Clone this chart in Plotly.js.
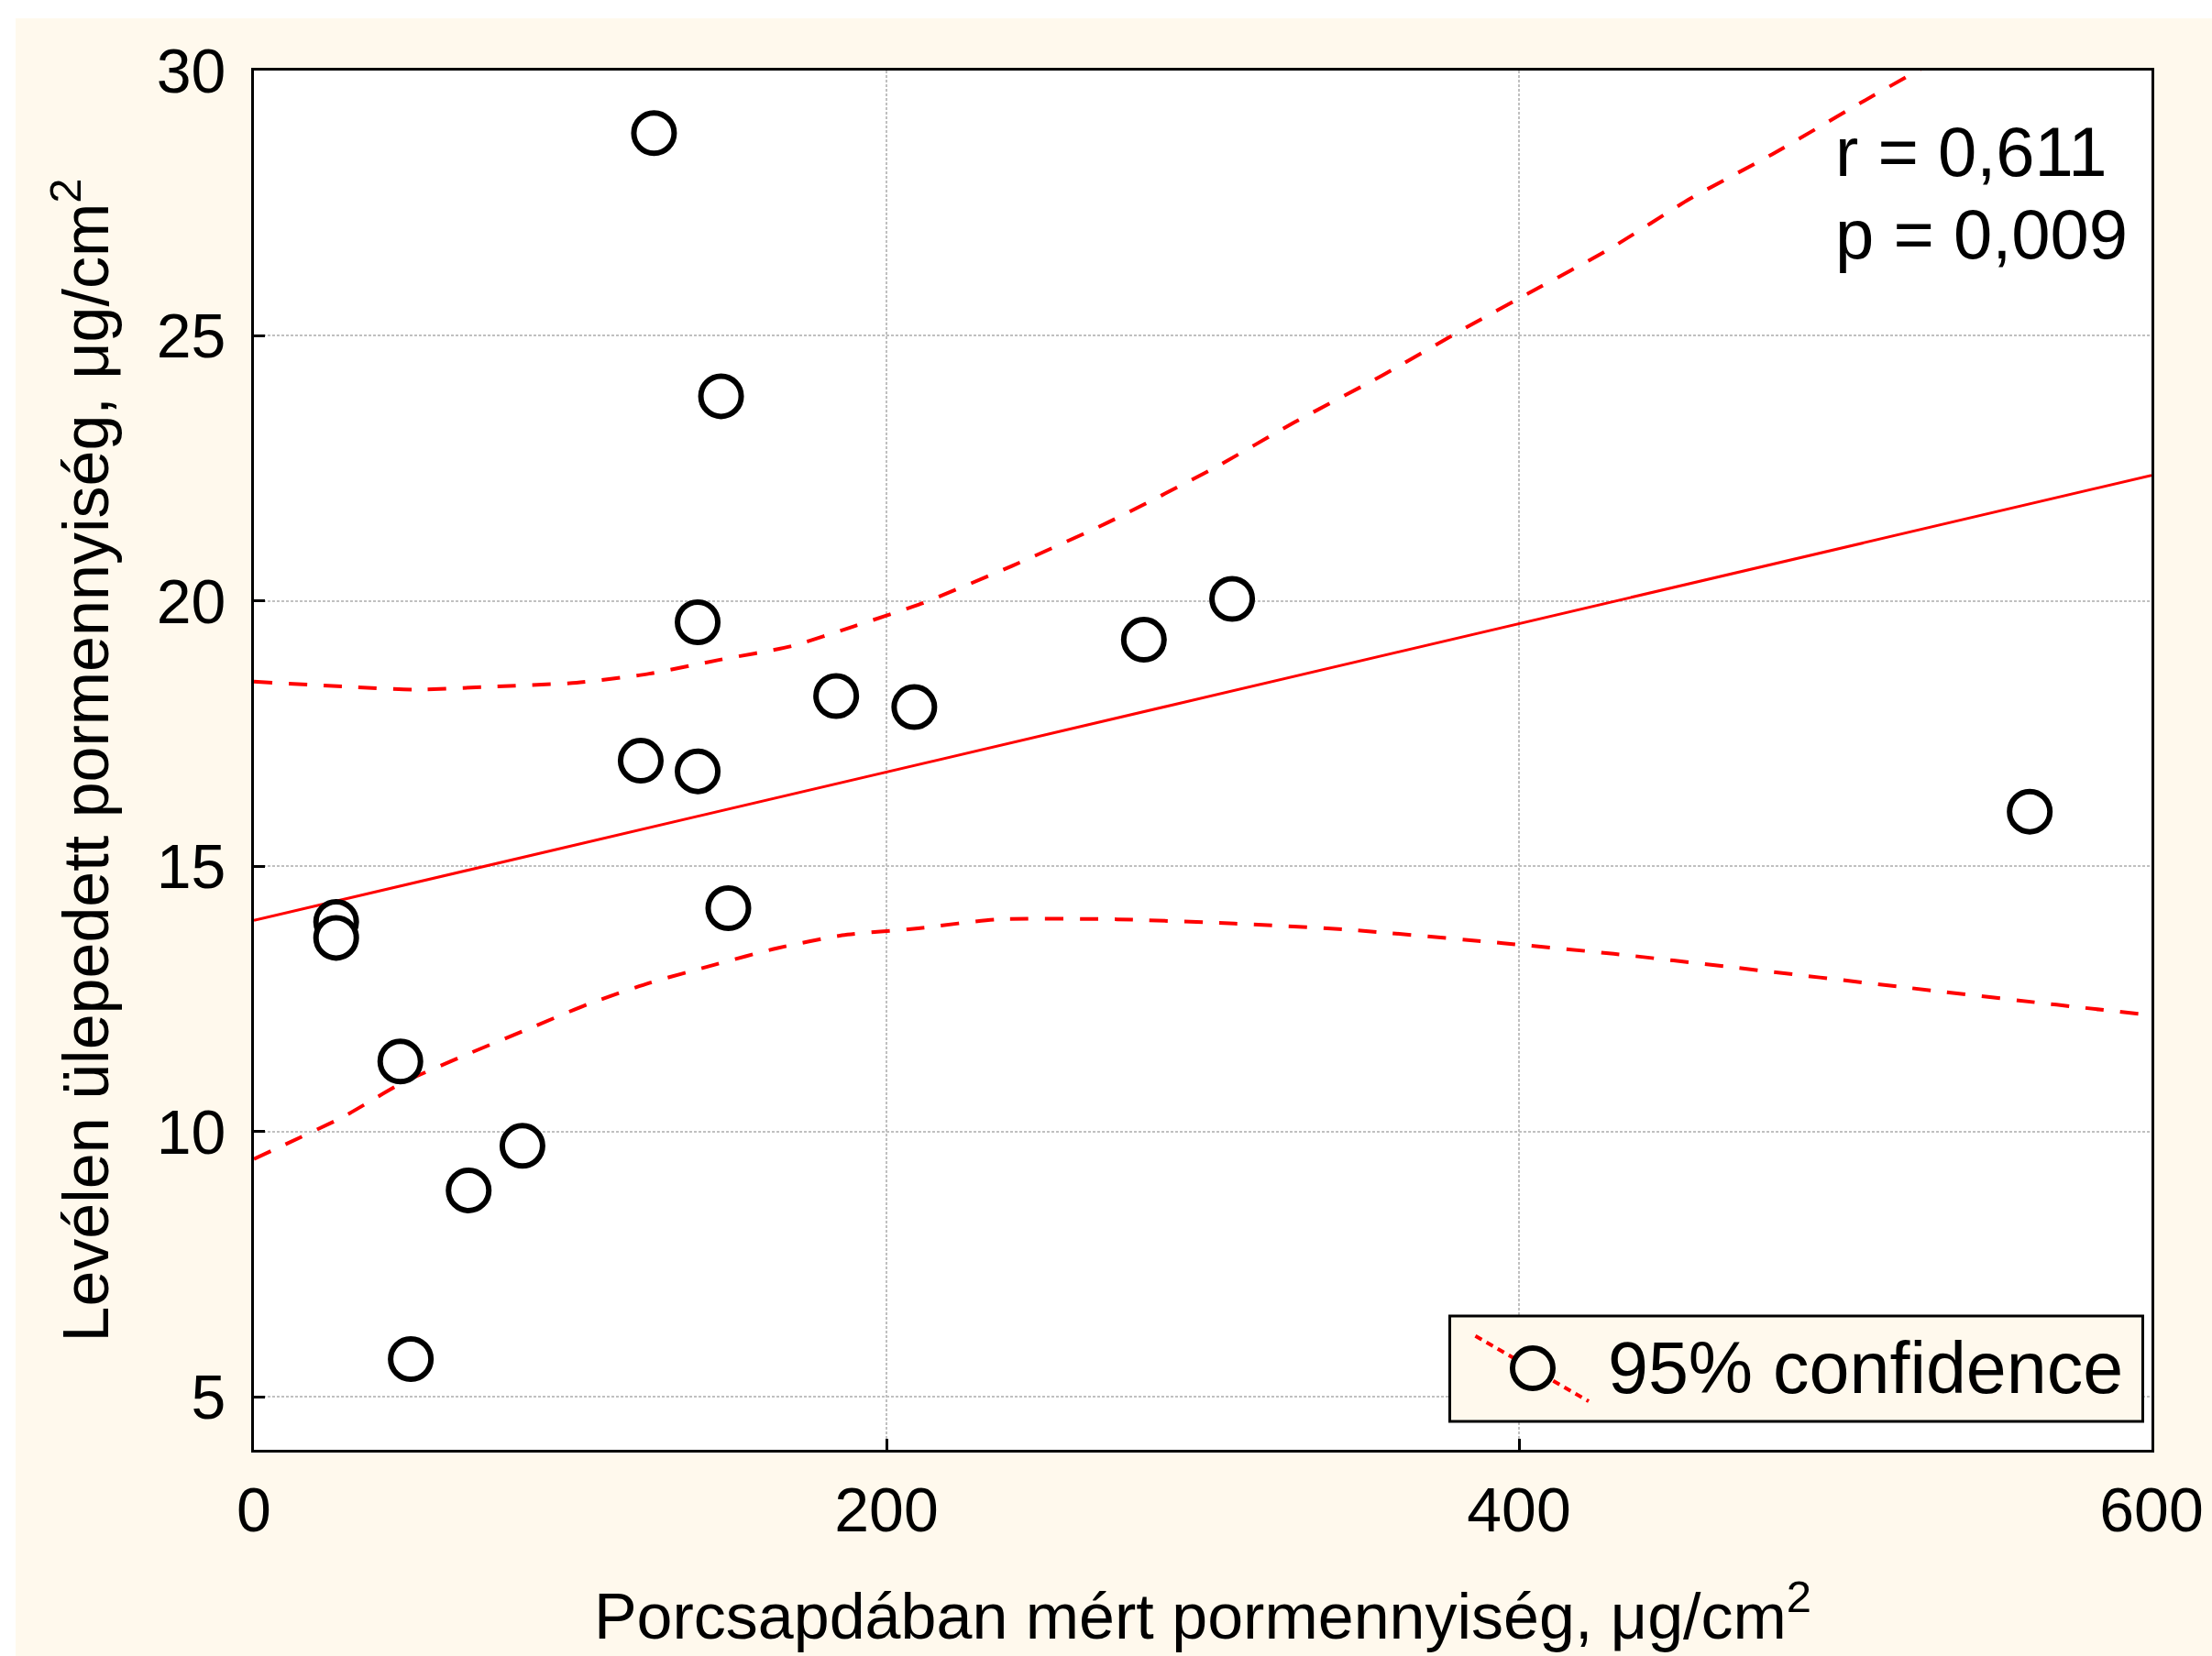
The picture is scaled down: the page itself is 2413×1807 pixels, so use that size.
<!DOCTYPE html>
<html><head><meta charset="utf-8">
<script src="https://cdn.plot.ly/plotly-3.0.1.min.js"></script>
<style>
html,body{margin:0;padding:0;background:#ffffff;width:2413px;height:1807px;overflow:hidden}
#chart{position:absolute;left:17px;top:20px;width:2396px;height:1787px}
</style>
</head><body><div id="chart"></div>
<script>
// Scatter points
const pointX = [126.5, 147.7, 140.3, 184.1, 208.8, 122.3, 140.3, 150.0, 26.0, 26.0, 46.3, 84.9, 67.9, 49.6, 281.4, 309.3, 561.5];
const pointY = [28.82, 23.86, 19.60, 18.21, 18.00, 16.99, 16.79, 14.21, 13.95, 13.65, 11.32, 9.73, 8.89, 5.71, 19.27, 20.04, 16.03];
// Regression line
const regX = [0, 600];
const regY = [13.98, 22.37];
// 95% confidence bands
const upperX = [0, 28, 51, 77, 102, 125, 147, 170, 190, 211, 240, 270, 304, 329, 357, 384, 403, 429, 454, 480, 508, 524, 532];
const upperY = [18.48, 18.39, 18.33, 18.39, 18.46, 18.63, 18.89, 19.15, 19.53, 19.95, 20.67, 21.48, 22.52, 23.37, 24.26, 25.18, 25.80, 26.65, 27.58, 28.42, 29.39, 29.93, 30.2];
const lowerX = [0, 10, 28, 47, 66, 87, 106, 125, 146, 165, 186, 210, 235, 273, 310, 347, 395, 430, 467, 523, 570, 597];
const lowerY = [9.48, 9.76, 10.27, 10.92, 11.42, 11.94, 12.41, 12.80, 13.15, 13.45, 13.70, 13.83, 14.00, 14.00, 13.92, 13.80, 13.55, 13.35, 13.10, 12.71, 12.39, 12.21];
// Ticks and texts
const xTicks = [0, 200, 400, 600];
const yTicks = [5, 10, 15, 20, 25, 30];
const xTitle = "Porcsapdában mért pormennyiség, μg/cm<sup>2</sup>";
const yTitle = "Levélen ülepedett pormennyiség, μg/cm<sup>2</sup>";
const statLines = ["r = 0,611", "p = 0,009"];
const legendLabel = "95% confidence";

const FONT = "Liberation Sans, Arial, Helvetica, sans-serif";
const CREAM = "#FFF9ED";
const RED = "#FF0000";

const traces = [
  {x: upperX, y: upperY, type: "scatter", mode: "lines", line: {color: RED, width: 4, dash: "20px,18px", shape: "spline", smoothing: 0.6}, hoverinfo: "skip", showlegend: false},
  {x: lowerX, y: lowerY, type: "scatter", mode: "lines", line: {color: RED, width: 4, dash: "20px,18px", shape: "spline", smoothing: 0.6}, hoverinfo: "skip", showlegend: false},
  {x: regX, y: regY, type: "scatter", mode: "lines", line: {color: RED, width: 3}, hoverinfo: "skip", showlegend: false},
  {x: pointX, y: pointY, type: "scatter", mode: "markers", marker: {symbol: "circle", size: 44, color: "#ffffff", line: {color: "#000000", width: 6}}, showlegend: false}
];

const axisCommon = {
  showline: true, mirror: true, linecolor: "#000000", linewidth: 3,
  ticks: "inside", ticklen: 12, tickwidth: 3, tickcolor: "#000000",
  showgrid: true, gridcolor: "#c0c0c0", gridwidth: 2, griddash: "3px,2px",
  zeroline: false, tickmode: "array",
  tickfont: {family: FONT, size: 68, color: "#000000"}
};

const layout = {
  width: 2396, height: 1787,
  paper_bgcolor: CREAM, plot_bgcolor: "#ffffff",
  margin: {l: 260, r: 66, t: 57, b: 225},
  showlegend: false,
  xaxis: Object.assign({}, axisCommon, {
    range: [0, 600], tickvals: xTicks, ticktext: xTicks.map(String),
    ticklabelstandoff: 4,
    title: {text: xTitle, font: {family: FONT, size: 70, color: "#000000"}, standoff: 56}
  }),
  yaxis: Object.assign({}, axisCommon, {
    range: [4, 30], tickvals: yTicks, ticktext: yTicks.map(String),
    ticklabelstandoff: 14,
    title: {text: yTitle, font: {family: FONT, size: 70, color: "#000000"}, standoff: 30}
  }),
  annotations: [
    {xref: "paper", yref: "paper", x: 0.8324, y: 0.9409, xanchor: "left", yanchor: "middle", text: statLines[0], showarrow: false, font: {family: FONT, size: 76, color: "#000000"}},
    {xref: "paper", yref: "paper", x: 0.8324, y: 0.8817, xanchor: "left", yanchor: "middle", text: statLines[1], showarrow: false, font: {family: FONT, size: 76, color: "#000000"}},
    {xref: "paper", yref: "paper", x: 0.7126, y: 0.0598, xanchor: "left", yanchor: "middle", text: legendLabel, showarrow: false, font: {family: FONT, size: 79, color: "#000000"}}
  ],
  shapes: [
    {type: "rect", xref: "paper", yref: "paper", x0: 0.6302, x1: 0.9954, y0: 0.0206, y1: 0.0970, line: {color: "#000000", width: 3}, fillcolor: CREAM, layer: "above"},
    {type: "line", xref: "paper", yref: "paper", x0: 0.6437, y0: 0.0826, x1: 0.7034, y1: 0.0352, line: {color: RED, width: 4, dash: "8px,6px"}, layer: "above"},
    {type: "circle", xref: "paper", yref: "paper", xsizemode: "pixel", ysizemode: "pixel", xanchor: 0.6739, yanchor: 0.0591, x0: -22, x1: 22, y0: -22, y1: 22, line: {color: "#000000", width: 6}, fillcolor: CREAM, layer: "above"}
  ]
};

Plotly.newPlot("chart", traces, layout, {displayModeBar: false, responsive: false, staticPlot: true});
</script>
</body></html>
